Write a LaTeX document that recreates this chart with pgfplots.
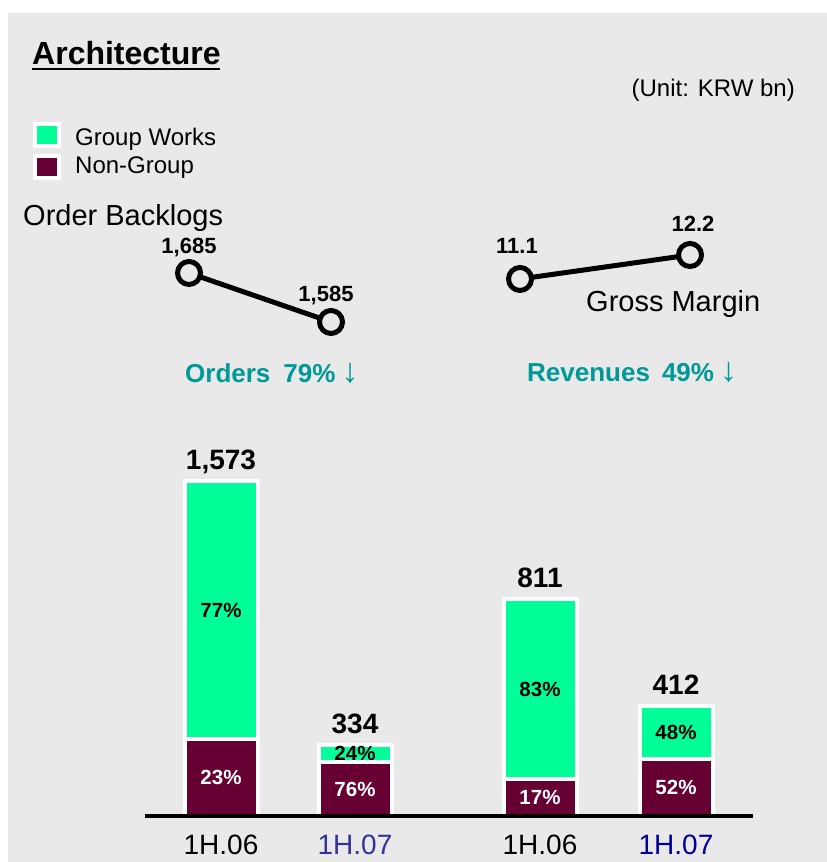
\documentclass[border=0pt]{standalone}
\usepackage{pgfplots}
\pgfplotsset{compat=1.18}
\usepackage{fontspec}
\setmainfont{Liberation Sans}
\definecolor{bg}{RGB}{233,233,233}
\definecolor{gw}{RGB}{0,255,153}
\definecolor{ng}{RGB}{102,0,51}
\definecolor{teal}{RGB}{0,153,153}
\definecolor{bluea}{RGB}{51,51,153}
\definecolor{blueb}{RGB}{0,0,153}
\newcommand\fs[1]{\fontsize{#1}{#1}\selectfont}
\newcommand\darr{{\mdseries\fs{34}↓}}
\tikzset{
  barlbl/.style={font=\fs{28}\bfseries, anchor=base, yshift=11pt, inner sep=0pt},
  pct/.style={font=\fs{20.5}\bfseries, inner sep=0pt},
}
\pgfplotsset{
  barax/.style={
    ybar stacked, scale only axis, height=380pt, clip=false,
    xmin=-0.5, xmax=1.5, ymin=0,
    axis line style={draw=none}, ytick=\empty, xtick={0,1},
    major tick length=0pt,
    xticklabel style={font=\fs{28}, anchor=base, yshift=-39pt, inner sep=0pt},
  },
  lineax/.style={
    scale only axis, clip=false, xmin=0, xmax=1,
    axis line style={draw=none}, xtick=\empty, ytick=\empty,
  },
}
\begin{document}
\begin{tikzpicture}
\fill[white] (0pt,0pt) rectangle (827pt,862pt);
\fill[bg] (8pt,0pt) rectangle (827pt,849pt);
% title
\node[anchor=base west, inner sep=0pt, font=\fs{32}\bfseries] at (32pt,797pt) {Architecture};
\draw[line width=2.5pt] (32pt,793pt) -- (220pt,793pt);
\node[anchor=base east, inner sep=0pt, font=\fs{24}] at (795pt,765pt) {(Unit: KRW bn)};
% legend
\draw[white, line width=4pt, fill=gw] (35pt,738pt) rectangle (59pt,716pt);
\draw[white, line width=4pt, fill=ng] (35pt,706pt) rectangle (59pt,684pt);
\node[anchor=base west, inner sep=0pt, font=\fs{24}] at (75pt,716pt) {Group Works};
\node[anchor=base west, inner sep=0pt, font=\fs{24}] at (75pt,688pt) {Non-Group};
% texts
\node[anchor=base west, inner sep=0pt, font=\fs{29}] at (23pt,636pt) {Order Backlogs};
\node[anchor=base west, inner sep=0pt, font=\fs{29}] at (586pt,550pt) {Gross Margin};
\node[anchor=base west, inner sep=0pt, font=\fs{26}\bfseries, text=teal] at (185pt,479pt) {Orders\hspace{13pt}79\%\hspace{6pt}\darr};
\node[anchor=base west, inner sep=0pt, font=\fs{26}\bfseries, text=teal] at (527pt,480pt) {Revenues\hspace{12pt}49\%\hspace{6pt}\darr};

% Orders bars
\begin{axis}[barax, at={(154pt,46pt)}, anchor=south west, width=268pt, ymax=1784,
  xticklabels={1H.06, \textcolor{bluea}{1H.07}}, bar width=73pt]
\addplot[fill=ng, draw=white, line width=4pt] coordinates {(0,362) (1,254)};
\addplot[fill=gw, draw=white, line width=4pt] coordinates {(0,1211) (1,80)};
\coordinate (t1) at (axis cs:0,1573);
\coordinate (t2) at (axis cs:1,334);
\coordinate (a1) at (axis cs:0,967);
\coordinate (a2) at (axis cs:0,181);
\coordinate (a3) at (axis cs:1,294);
\coordinate (a4) at (axis cs:1,127);
\end{axis}

% Revenue bars
\begin{axis}[barax, at={(472pt,46pt)}, anchor=south west, width=272pt, ymax=1420,
  xticklabels={1H.06, \textcolor{blueb}{1H.07}}, bar width=73pt]
\addplot[fill=ng, draw=white, line width=4pt] coordinates {(0,138) (1,214)};
\addplot[fill=gw, draw=white, line width=4pt] coordinates {(0,673) (1,198)};
\coordinate (t3) at (axis cs:0,811);
\coordinate (t4) at (axis cs:1,412);
\coordinate (b1) at (axis cs:0,474);
\coordinate (b2) at (axis cs:0,69);
\coordinate (b3) at (axis cs:1,313);
\coordinate (b4) at (axis cs:1,107);
\end{axis}

\node[barlbl] at (t1) {1,573};
\node[barlbl] at (t2) {334};
\node[barlbl] at (t3) {811};
\node[barlbl] at (t4) {412};
\node[pct] at (a1) {77\%};
\node[pct, text=white] at (a2) {23\%};
\node[pct] at (a3) {24\%};
\node[pct, text=white] at (a4) {76\%};
\node[pct] at (b1) {83\%};
\node[pct, text=white] at (b2) {17\%};
\node[pct] at (b3) {48\%};
\node[pct, text=white] at (b4) {52\%};

\draw[line width=4pt] (145pt,46pt) -- (753pt,46pt);

% Order backlog line
\begin{axis}[lineax, at={(189pt,540pt)}, anchor=south west, width=142pt, height=49pt,
  ymin=1585, ymax=1685]
\addplot[black, line width=5pt, mark=*, mark size=11.5pt,
  mark options={fill=bg, draw=black, line width=5pt}] coordinates {(0,1685) (1,1585)};
\node[font=\fs{22}\bfseries] at (axis cs:0,1685) [yshift=25pt] {1,685};
\node[font=\fs{22}\bfseries] at (axis cs:1,1585) [xshift=-5pt, yshift=26pt] {1,585};
\end{axis}

% Gross margin line
\begin{axis}[lineax, at={(520pt,583pt)}, anchor=south west, width=170pt, height=24pt,
  ymin=11.1, ymax=12.2]
\addplot[black, line width=5pt, mark=*, mark size=11.5pt,
  mark options={fill=bg, draw=black, line width=5pt}] coordinates {(0,11.1) (1,12.2)};
\node[font=\fs{22}\bfseries] at (axis cs:0,11.1) [xshift=-3pt, yshift=33pt] {11.1};
\node[font=\fs{22}\bfseries] at (axis cs:1,12.2) [xshift=3pt, yshift=31pt] {12.2};
\end{axis}
\pgfresetboundingbox
\useasboundingbox (0pt,0pt) rectangle (827pt,862pt);
\end{tikzpicture}
\end{document}
